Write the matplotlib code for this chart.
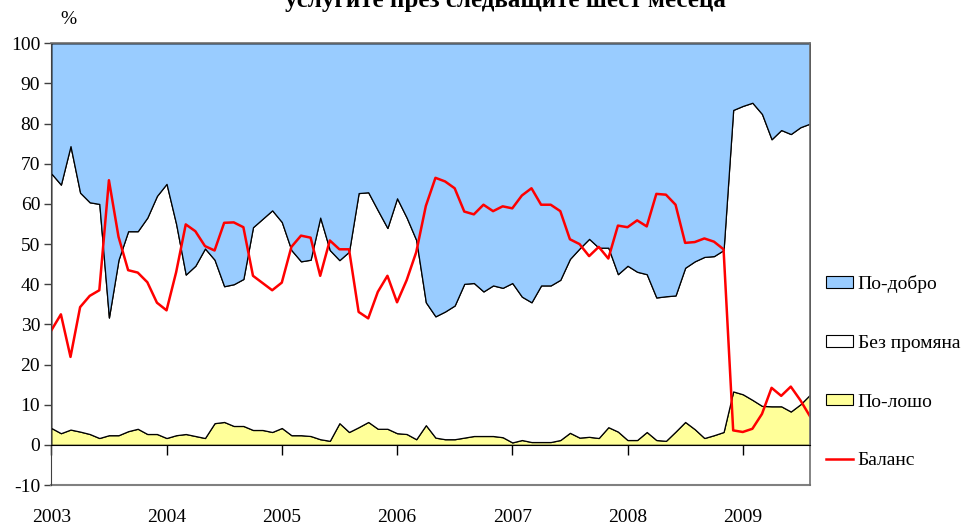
import numpy as np
import matplotlib
matplotlib.use("Agg")
import matplotlib.pyplot as plt
from matplotlib.patches import Patch
from matplotlib.lines import Line2D

plt.rcParams['font.family'] = ['Liberation Serif', 'DejaVu Serif']
plt.rcParams['axes.unicode_minus'] = False

# monthly data, Jan 2003 - Aug 2009 (%)
worse = [4.2, 2.9, 3.8, 3.3, 2.7, 1.7, 2.4, 2.4, 3.4, 4.0, 2.7, 2.7,
         1.7, 2.4, 2.7, 2.2, 1.7, 5.4, 5.7, 4.7, 4.7, 3.7, 3.7, 3.2,
         4.2, 2.4, 2.4, 2.2, 1.4, 1.0, 5.4, 3.2, 4.4, 5.7, 4.0, 4.0,
         2.9, 2.7, 1.4, 4.9, 1.8, 1.4, 1.4, 1.8, 2.2, 2.2, 2.2, 1.9,
         0.6, 1.2, 0.7, 0.7, 0.7, 1.2, 3.0, 1.8, 2.0, 1.7, 4.4, 3.3,
         1.2, 1.2, 3.2, 1.2, 1.0, 3.3, 5.7, 3.9, 1.7, 2.4, 3.2, 13.3,
         12.6, 11.2, 9.7, 9.6, 9.6, 8.3, 10.1, 12.5]
no_change = [63.4, 61.9, 70.6, 59.5, 57.7, 58.3, 29.3, 43.7, 49.8, 49.2, 53.9, 59.3,
             63.3, 52.6, 39.7, 42.4, 47.2, 40.7, 33.8, 35.3, 36.6, 50.5, 52.6, 55.2,
             51.3, 46.1, 43.3, 43.9, 55.2, 47.5, 40.6, 44.9, 58.3, 57.2, 54.4, 50.0,
             58.5, 53.9, 49.6, 30.6, 30.2, 31.8, 33.3, 38.3, 38.1, 36.0, 37.5, 37.2,
             39.7, 35.7, 34.8, 39.0, 39.0, 39.9, 43.3, 47.1, 49.3, 47.4, 44.7, 39.2,
             43.4, 41.9, 39.3, 35.5, 36.0, 33.9, 38.4, 41.8, 45.1, 44.6, 45.3, 70.1,
             71.8, 74.0, 72.7, 66.5, 68.8, 69.1, 69.0, 67.5]
better = [32.4, 35.2, 25.6, 37.2, 39.6, 40.0, 68.3, 53.9, 46.8, 46.8, 43.4, 38.0,
          35.0, 45.0, 57.6, 55.4, 51.1, 53.9, 60.5, 60.0, 58.7, 45.8, 43.7, 41.6,
          44.5, 51.5, 54.3, 53.9, 43.4, 51.5, 54.0, 51.9, 37.3, 37.1, 41.6, 46.0,
          38.6, 43.4, 49.0, 64.5, 68.0, 66.8, 65.3, 59.9, 59.7, 61.8, 60.3, 60.9,
          59.7, 63.1, 64.5, 60.3, 60.3, 58.9, 53.7, 51.1, 48.7, 50.9, 50.9, 57.5,
          55.4, 56.9, 57.5, 63.3, 63.0, 62.8, 55.9, 54.3, 53.2, 53.0, 51.5, 16.6,
          15.6, 14.8, 17.6, 23.9, 21.6, 22.6, 20.9, 20.0]
balance = [28.5, 32.5, 21.9, 34.3, 37.1, 38.5, 65.9, 51.8, 43.5, 42.9, 40.5, 35.4,
           33.5, 43.0, 54.9, 53.2, 49.5, 48.4, 55.3, 55.4, 54.2, 42.1, 40.3, 38.5,
           40.4, 49.3, 52.1, 51.6, 42.1, 50.9, 48.7, 48.7, 33.1, 31.5, 38.1, 42.1,
           35.5, 41.0, 48.0, 59.5, 66.5, 65.6, 63.9, 58.1, 57.4, 59.8, 58.2, 59.4,
           58.9, 62.1, 63.9, 59.8, 59.8, 58.2, 51.2, 50.0, 47.0, 49.3, 46.4, 54.6,
           54.2, 55.9, 54.4, 62.5, 62.3, 59.8, 50.3, 50.5, 51.4, 50.6, 48.7, 3.6,
           3.2, 4.0, 7.7, 14.2, 12.2, 14.5, 11.1, 7.1]
years = ['2003', '2004', '2005', '2006', '2007', '2008', '2009']

x = np.arange(len(worse))

fig = plt.figure(figsize=(9.66, 5.25), dpi=100)
ax = fig.add_axes([51.3 / 966, 1 - 485 / 525, (810 - 51.3) / 966, (485 - 43.3) / 525])

ax.stackplot(x, worse, no_change, better,
             colors=['#ffff99', '#ffffff', '#99ccff'],
             edgecolor='black', linewidth=0.9)
ax.plot(x, balance, color='red', lw=1.8)

ax.set_xlim(0, len(worse) - 1)
ax.set_ylim(-10, 100)
ax.set_yticks(range(-10, 101, 10))
ax.tick_params(axis='y', direction='out', length=5, width=1, labelsize=14, pad=3, color='#404040')

# category axis crosses at 0, labels sit below the plot frame
ax.spines['bottom'].set_position(('data', 0))
ax.spines['bottom'].set_color('black')
ax.set_xticks(range(0, len(worse), 12))
ax.set_xticklabels(years)
ax.tick_params(axis='x', direction='out', length=7, width=1, labelsize=14, pad=39)

for s in ['top', 'right']:
    ax.spines[s].set_color('#707070')
    ax.spines[s].set_linewidth(1.2)
ax.spines['left'].set_color('#404040')
ax.axhline(-10, color='#808080', lw=1.5, clip_on=False)

fig.text(68 / 966, 1 - 20 / 525, '%', ha='center', va='center', fontsize=14)
fig.text(505 / 966, 1 - 7.5 / 525, 'услугите през следващите шест месеца',
         ha='center', va='baseline', fontsize=18, fontweight='bold')

handles = [Patch(facecolor='#99ccff', edgecolor='black', lw=0.8),
           Patch(facecolor='white', edgecolor='black', lw=0.8),
           Patch(facecolor='#ffff99', edgecolor='black', lw=0.8),
           Line2D([], [], color='red', lw=1.8)]
labels = ['По-добро', 'Без промяна', 'По-лошо', 'Баланс']
fig.legend(handles, labels, loc='upper left', bbox_to_anchor=(826 / 966, 1 - 275 / 525),
           frameon=False, fontsize=14, labelspacing=2.15, handlelength=1.38,
           handleheight=0.52, handletextpad=0.26, borderpad=0, borderaxespad=0)

fig.savefig('out.png', dpi=100)
